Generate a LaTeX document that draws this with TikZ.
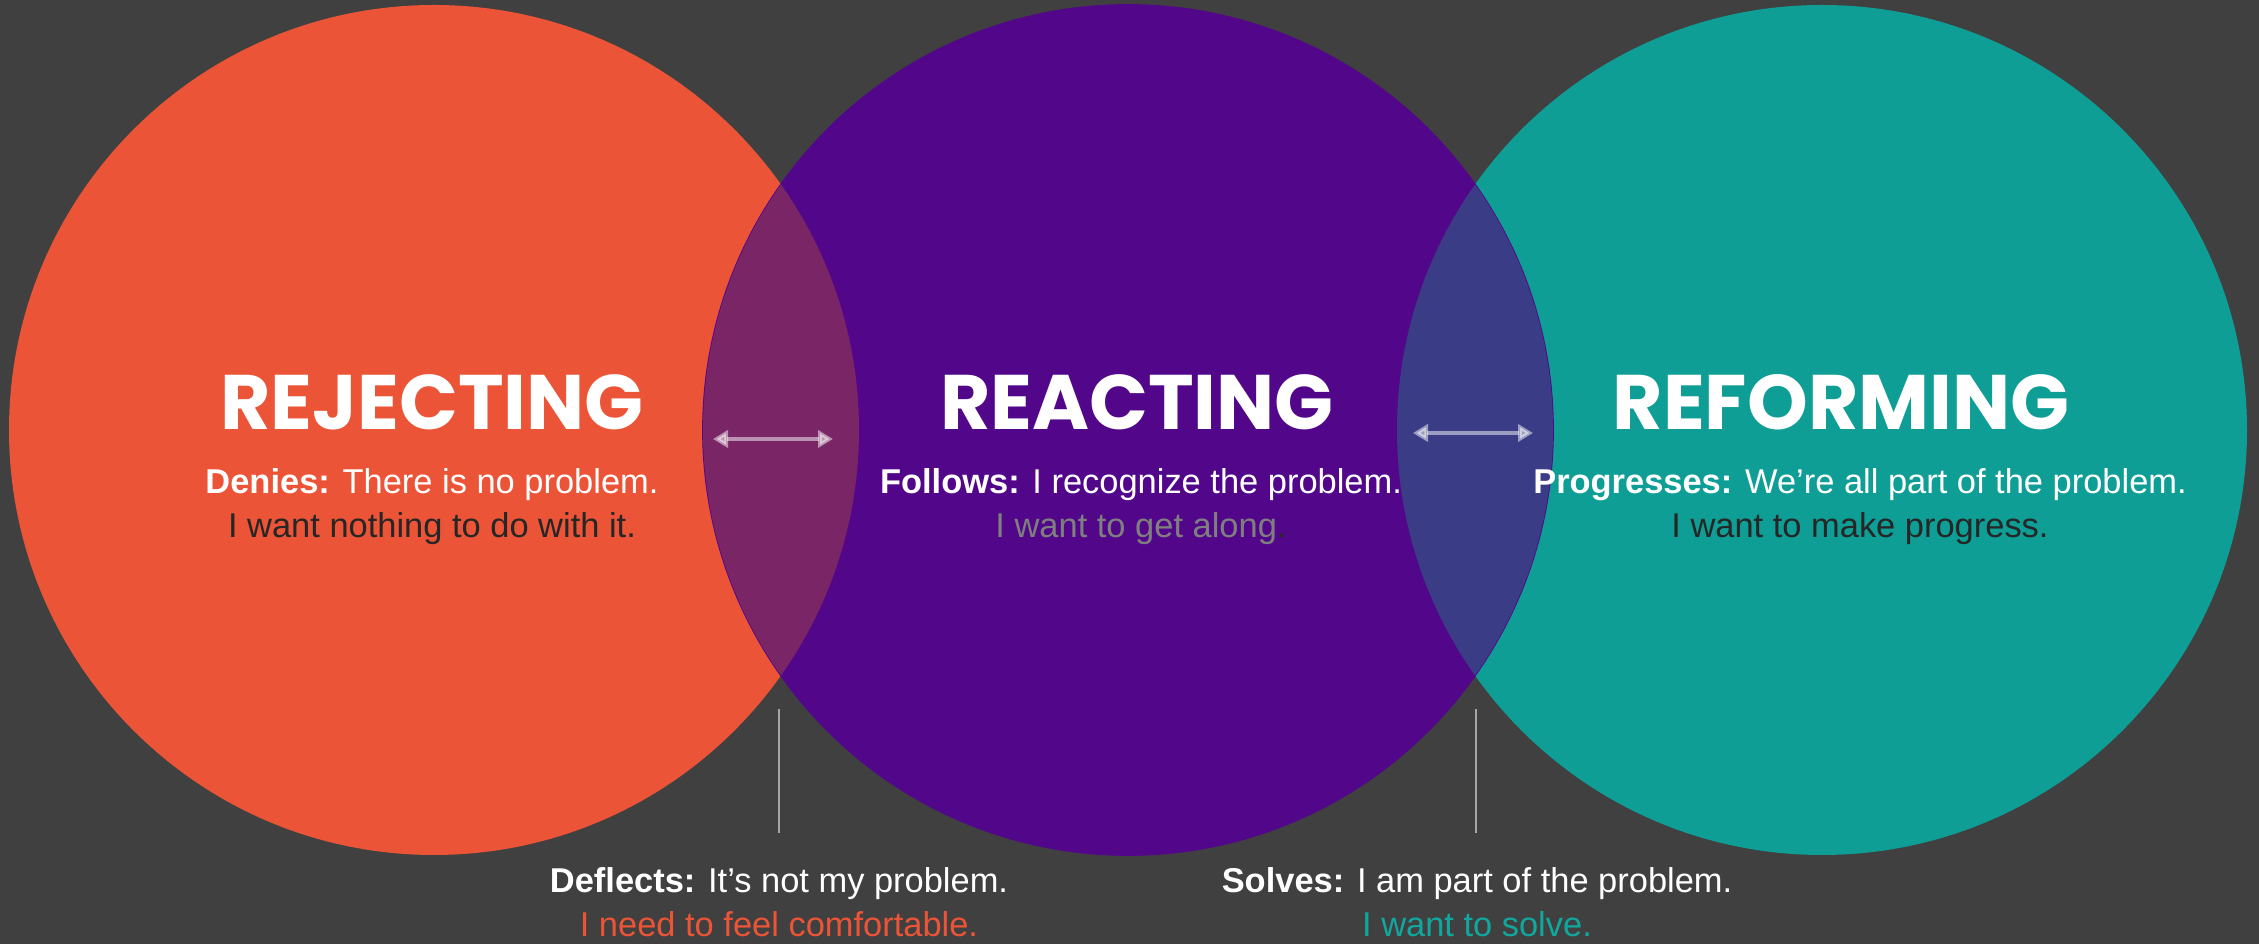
\documentclass[tikz,border=0pt]{standalone}
\usepackage{fontspec}
\setmainfont{Liberation Sans}
\newfontfamily\headfont{Poppins}
\usetikzlibrary{arrows.meta, positioning}

\definecolor{backdrop}{HTML}{404040}
\definecolor{rejcolor}{HTML}{EB5436}
\definecolor{reacolor}{HTML}{52078A}
\definecolor{refcolor}{HTML}{0E9E96}
\definecolor{lapleft}{HTML}{7A2566}
\definecolor{lapright}{HTML}{3B3C86}
\definecolor{darktext}{HTML}{262626}
\definecolor{greytext}{HTML}{7F7F7F}
\definecolor{solvetext}{HTML}{10A89E}
\definecolor{dividergray}{HTML}{A6A6A6}

\begin{document}
\begin{tikzpicture}
        [
        ring/.style={circle, minimum size=8.5cm, inner sep=0pt},
        headline/.style={anchor=base, text=white, inner sep=0pt, font=\headfont\bfseries\fontsize{22pt}{26pt}\selectfont},
        saying/.style={anchor=base, align=center, text=white, inner sep=0pt, font=\fontsize{9.8pt}{12.8pt}\selectfont},
        gap arrow/.style={{Triangle[length=0.15cm, width=0.17cm]}-{Triangle[length=0.15cm, width=0.17cm]}, line width=0.04cm, white, opacity=0.5},
        divider/.style={draw=dividergray, line width=0.02cm}
        ]

        \fill [backdrop] (0,0) rectangle (22.59,9.44);
        \useasboundingbox (0,0) rectangle (22.59,9.44);

        % Circles
        \node (rej) [ring, fill=rejcolor] at (4.34,5.14) {};
        \node (ref) [ring, fill=refcolor] at (18.22,5.14) {};
        \node (rea) [ring, fill=reacolor, draw=reacolor, line width=0.5pt] at (11.28,5.14) {};

        \begin{scope}
            \clip (rea.center) circle (4.25);
            \fill [lapleft] (rej.center) circle (4.25);
            \fill [lapright] (ref.center) circle (4.25);
        \end{scope}

        % Names
        \node (rejname) [headline] at (4.32,5.14) {REJECTING};
        \node (reaname) [headline] at (11.37,5.14) {REACTING};
        \node (refname) [headline] at (18.41,5.14) {REFORMING};

        % base anchor sits on the last line
        \node (rejtext) [saying] at (4.32,4.06) {\textbf{Denies:} There is no problem.\\
            \textcolor{darktext}{I want nothing to do with it.}};
        \node (reatext) [saying] at (11.41,4.06) {\textbf{Follows:} I recognize the problem.\\
            \textcolor{greytext}{I want to get along}\textcolor{darktext}{.}};
        \node (reftext) [saying] at (18.60,4.06) {\textbf{Progresses:} We’re all part of the problem.\\
            \textcolor{darktext}{I want to make progress.}};

        % Arrows
        \coordinate (la) at (7.13,5.05);
        \coordinate (lb) at (8.33,5.05);
        \coordinate (ra) at (14.13,5.11);
        \coordinate (rb) at (15.33,5.11);
        \draw [gap arrow] (la) -- (lb);
        \draw [gap arrow] (ra) -- (rb);

        % Lower notes
        \coordinate (ltop) at (7.79,2.35);
        \coordinate (lbot) at (7.79,1.11);
        \coordinate (rtop) at (14.76,2.35);
        \coordinate (rbot) at (14.76,1.11);
        \draw [divider] (ltop) -- (lbot);
        \draw [divider] (rtop) -- (rbot);

        \node (deflects) [saying] at (7.79,0.07) {\textbf{Deflects:} It’s not my problem.\\
            \textcolor{rejcolor}{I need to feel comfortable.}};
        \node (solves) [saying] at (14.77,0.07) {\textbf{Solves:} I am part of the problem.\\
            \textcolor{solvetext}{I want to solve.}};

    \end{tikzpicture}
\end{document}
